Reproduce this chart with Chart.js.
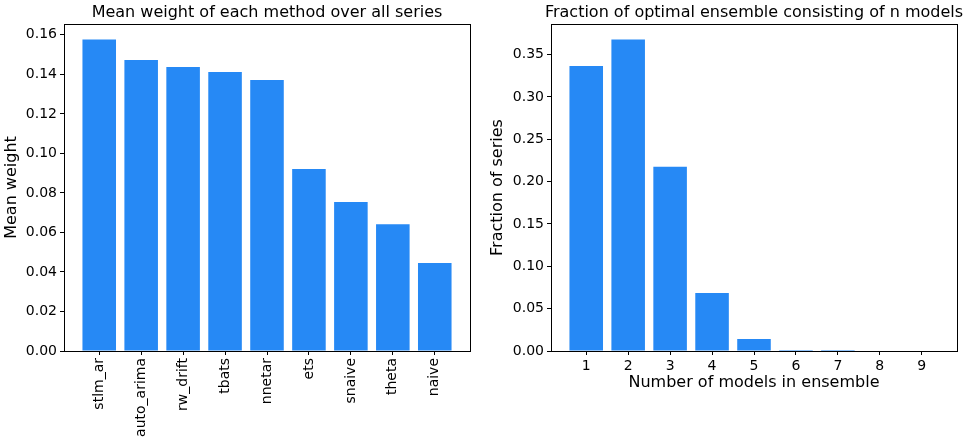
<!DOCTYPE html>
<html>
<head>
<meta charset="utf-8">
<script src="https://cdn.jsdelivr.net/npm/chart.js@4"></script>
<style>
    body { margin: 0; background: #fff; }
    .panel { position: absolute; top: 0; height: 444px; }
    #leftPanel { left: 0; width: 480px; }
    #rightPanel { left: 480px; width: 491px; }
</style>
</head>
<body>
<div class="panel" id="leftPanel"><canvas id="weightChart"></canvas></div>
<div class="panel" id="rightPanel"><canvas id="ensembleChart"></canvas></div>
<script>
// Data
const methods = ['stlm_ar', 'auto_arima', 'rw_drift', 'tbats', 'nnetar', 'ets', 'snaive', 'theta', 'naive'];
const meanWeight = [0.1576, 0.1472, 0.1437, 0.1412, 0.1371, 0.0921, 0.0754, 0.0642, 0.0445];
const weightTicks = [0, 0.02, 0.04, 0.06, 0.08, 0.10, 0.12, 0.14, 0.16];

const modelCounts = [1, 2, 3, 4, 5, 6, 7, 8, 9];
const fraction = [0.3365, 0.3678, 0.2175, 0.0685, 0.0142, 0.0012, 0.0012, 0, 0];
const fractionTicks = [0, 0.05, 0.10, 0.15, 0.20, 0.25, 0.30, 0.35];

const BAR_COLOR = 'rgb(38, 137, 245)';
const FONT = 'DejaVu Sans';

Chart.defaults.font.family = FONT;
Chart.defaults.color = '#000';
Chart.defaults.animation = false;

// top/right spines like matplotlib, plus a title centred over the axes
const framePlugin = {
    id: 'frame',
    afterDatasetsDraw(chart, args, opts) {
        const { ctx, chartArea: a } = chart;
        ctx.save();
        ctx.strokeStyle = '#000';
        ctx.lineWidth = 1;
        ctx.strokeRect(Math.round(a.left) + 0.5, Math.round(a.top) + 0.5,
            Math.round(a.right - a.left), Math.round(a.bottom - a.top));
        ctx.fillStyle = '#000';
        ctx.font = '16px "' + FONT + '"';
        ctx.textAlign = 'center';
        ctx.textBaseline = 'middle';
        ctx.fillText(opts.text, (a.left + a.right) / 2, 13);
        ctx.restore();
    }
};

function axisGrid() {
    return { drawOnChartArea: false, drawTicks: true, tickLength: 4, color: '#000', offset: false };
}

function makeBarChart(canvasId, cfg) {
    const ctx = document.getElementById(canvasId).getContext('2d');
    return new Chart(ctx, {
        type: 'bar',
        data: {
            datasets: [{
                data: cfg.xs.map((x, i) => ({ x: x, y: cfg.ys[i] })),
                backgroundColor: BAR_COLOR,
                borderWidth: 0,
                barPercentage: 0.8,
                categoryPercentage: 1
            }]
        },
        options: {
            responsive: true,
            maintainAspectRatio: false,
            layout: { padding: { left: 0, right: cfg.padRight, top: 24, bottom: 0 } },
            plugins: {
                legend: { display: false },
                tooltip: { enabled: false },
                title: { display: false },
                frame: { text: cfg.title }
            },
            scales: {
                x: {
                    type: 'linear',
                    offset: false,
                    min: cfg.xMin,
                    max: cfg.xMax,
                    grid: axisGrid(),
                    border: { color: '#000' },
                    ticks: {
                        font: { size: 14 },
                        padding: 3,
                        minRotation: cfg.rotate,
                        maxRotation: cfg.rotate,
                        autoSkip: false,
                        callback: cfg.xLabel
                    },
                    afterBuildTicks: s => { s.ticks = cfg.xs.map(v => ({ value: v })); },
                    afterFit: s => { s.height = 93; },
                    title: {
                        display: !!cfg.xTitle,
                        text: cfg.xTitle || '',
                        font: { size: 16 },
                        padding: { top: 52, bottom: 52 }
                    }
                },
                y: {
                    min: 0,
                    max: Math.max(...cfg.ys) * 1.05,
                    grid: axisGrid(),
                    border: { color: '#000' },
                    ticks: {
                        font: { size: 14 },
                        padding: 3,
                        callback: v => v.toFixed(2)
                    },
                    afterBuildTicks: s => { s.ticks = cfg.yTicks.map(v => ({ value: v })); },
                    afterFit: s => { s.width = cfg.yWidth; },
                    title: {
                        display: true,
                        text: cfg.yTitle,
                        font: { size: 16 },
                        padding: { top: cfg.yTitlePad, bottom: cfg.yTitlePad }
                    }
                }
            }
        },
        plugins: [framePlugin]
    });
}

makeBarChart('weightChart', {
    title: 'Mean weight of each method over all series',
    xs: methods.map((m, i) => i),
    ys: meanWeight,
    xMin: -0.84,
    xMax: 8.84,
    xLabel: v => methods[v],
    rotate: 90,
    yTicks: weightTicks,
    yTitle: 'Mean weight',
    yWidth: 64,
    yTitlePad: 2.5,
    padRight: 10
});

makeBarChart('ensembleChart', {
    title: 'Fraction of optimal ensemble consisting of n models',
    xs: modelCounts,
    ys: fraction,
    xMin: 0.16,
    xMax: 9.84,
    xLabel: v => String(v),
    rotate: 0,
    xTitle: 'Number of models in ensemble',
    yTicks: fractionTicks,
    yTitle: 'Fraction of series',
    yWidth: 71,
    yTitlePad: 8.5,
    padRight: 14
});
</script>
</body>
</html>
